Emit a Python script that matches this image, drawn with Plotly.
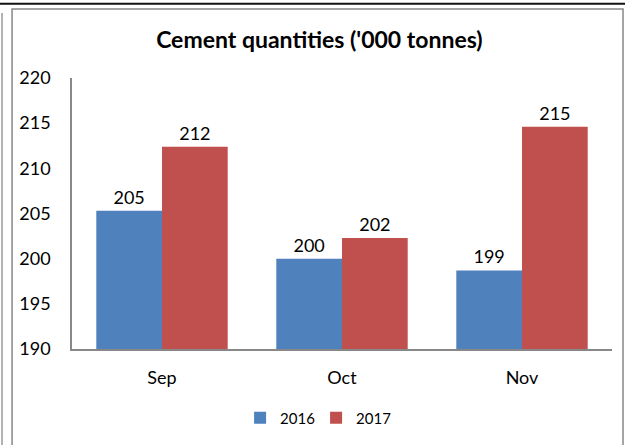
import plotly.graph_objects as go

months = ["Sep", "Oct", "Nov"]
qty_2016 = [205.3, 200.0, 198.7]
qty_2017 = [212.4, 202.3, 214.6]
y_ticks = [190, 195, 200, 205, 210, 215, 220]

FONT = "Lato, Open Sans, sans-serif"
BLUE = "#4F81BD"
RED = "#C0504D"

fig = go.Figure()
for name, vals, col in [("2016", qty_2016, BLUE), ("2017", qty_2017, RED)]:
    fig.add_trace(go.Bar(
        x=months, y=vals, name=name,
        marker=dict(color=col, line=dict(width=0)),
        texttemplate="%{y:.0f}", textposition="outside",
        textfont=dict(size=18, color="#000"), cliponaxis=False,
    ))

# outer frame lines (page + chart box)
frame = dict(type="line", xref="paper", yref="paper")
fig.update_layout(shapes=[
    dict(frame, x0=-0.14, x1=1.03, y0=1.274, y1=1.274, line=dict(color="#111", width=2)),
    dict(frame, x0=-0.1296, x1=-0.1296, y0=1.24, y1=-0.4, line=dict(color="#999", width=1.5)),
    dict(type="rect", xref="paper", yref="paper", x0=-0.111, x1=1.0204, y0=1.255, y1=-0.4,
         line=dict(color="#888", width=1.5)),
])

fig.update_layout(
    width=625, height=445,
    margin=dict(l=72, r=13, t=78, b=95),
    paper_bgcolor="white", plot_bgcolor="white",
    font=dict(family=FONT, size=18, color="#000"),
    title=dict(text="<b>Cement quantities ('000 tonnes)</b>", x=0.511, xanchor="center",
               y=0.91, yanchor="middle", font=dict(size=23, family=FONT)),
    barmode="group", bargap=0.27, bargroupgap=0,
    showlegend=True,
    legend=dict(orientation="h", x=0.452, xanchor="center", y=-0.25, yanchor="middle",
                font=dict(size=15), itemwidth=30, entrywidth=31, traceorder="normal"),
    xaxis=dict(showline=True, linecolor="#888", linewidth=1.5, ticks="",
               ticklabelstandoff=12, showgrid=False),
    yaxis=dict(range=[190, 220], tickvals=y_ticks, showline=True, linecolor="#888",
               linewidth=1.5, ticks="", showgrid=False, zeroline=False,
               ticklabelstandoff=16),
)

fig.write_html("out.html", config={"displayModeBar": False},
               post_script="document.body.style.margin='0';")
